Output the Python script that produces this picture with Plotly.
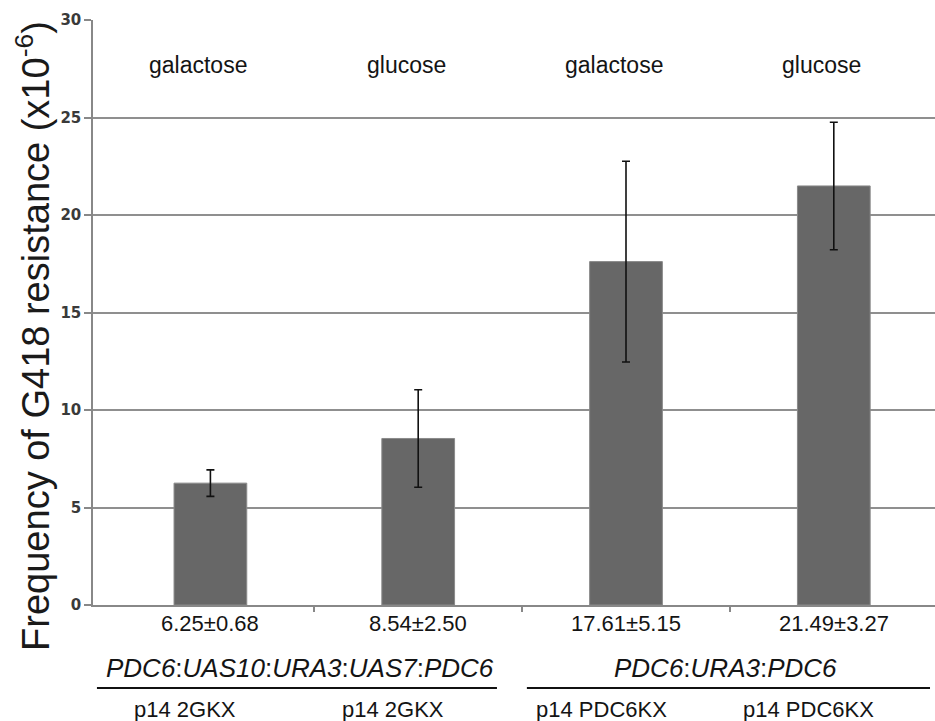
import plotly.graph_objects as go

# Conditions, frequencies (x10^-6) and standard deviations
conditions = ["galactose", "glucose", "galactose", "glucose"]
strains = ["p14 2GKX", "p14 2GKX", "p14 PDC6KX", "p14 PDC6KX"]
constructs = ["PDC6:UAS10:URA3:UAS7:PDC6", "PDC6:URA3:PDC6"]
freq = [6.25, 8.54, 17.61, 21.49]
sd = [0.68, 2.50, 5.15, 3.27]
y_ticks = [0, 5, 10, 15, 20, 25, 30]

xpos = list(range(len(freq)))

SANS = "Liberation Sans, Arial, sans-serif"
INK = "#141414"

fig = go.Figure()
fig.add_trace(go.Bar(
    x=xpos, y=freq, width=0.35,
    marker=dict(color="#676767", line=dict(color="#8a8a8a", width=1)),
    error_y=dict(type="data", array=sd, visible=True,
                 color="#111111", thickness=1.6, width=4),
    showlegend=False,
))

ann = []
# condition labels above the bars
for i, c in enumerate(conditions):
    ann.append(dict(x=i, y=1, xref="x", yref="paper", yanchor="middle",
                    yshift=-45, xshift=-12, text=c, showarrow=False,
                    font=dict(family=SANS, size=23, color=INK)))
# mean ± sd under each bar
for i, (m, s) in enumerate(zip(freq, sd)):
    ann.append(dict(x=i, y=0, xref="x", yref="paper", yanchor="middle",
                    yshift=-18, text=f"{m:.2f}\u00b1{s:.2f}", showarrow=False,
                    font=dict(family=SANS, size=22, color=INK)))
# strain labels
for i, s in enumerate(strains):
    ann.append(dict(x=i, y=0, xref="x", yref="paper", yanchor="middle",
                    yshift=-104, xshift=-25, text=s, showarrow=False,
                    font=dict(family=SANS, size=22, color=INK)))
# construct labels, one per pair of bars
for xc, t in zip([0.43, 2.48], constructs):
    italic = ":".join(f"<i>{p}</i>" for p in t.split(":"))
    ann.append(dict(x=xc, y=0, xref="x", yref="paper", yanchor="middle",
                    yshift=-63, text=italic, showarrow=False,
                    font=dict(family=SANS, size=26, color=INK)))
# y-axis title
ann.append(dict(x=0, y=0.46, xref="paper", yref="paper",
                xanchor="center", yanchor="middle", xshift=-60,
                text="Frequency of G418 resistance (x10<sup>-6</sup>)",
                textangle=-90, showarrow=False,
                font=dict(family=SANS, size=38, color="#1a1a1a")))

shapes = []
for x0, x1 in [(-0.546, 1.379), (1.523, 3.463)]:
    shapes.append(dict(type="line", xref="x", yref="paper",
                       x0=x0, x1=x1, y0=-0.1418, y1=-0.1418,
                       line=dict(color="#111111", width=2)))

fig.update_layout(
    width=935, height=721,
    margin=dict(l=93, r=0, t=19.5, b=116),
    paper_bgcolor="white", plot_bgcolor="white",
    annotations=ann, shapes=shapes,
    xaxis=dict(range=[-0.565, 3.487], tickvals=[0.5, 1.5, 2.5],
               showticklabels=False, ticks="outside", ticklen=5,
               tickcolor="#888888", tickwidth=1.5,
               showline=True, linecolor="#888888", linewidth=1.5,
               showgrid=False, zeroline=False, fixedrange=True),
    yaxis=dict(range=[0, 30], tickvals=y_ticks,
               ticks="outside", ticklen=7, tickcolor="#888888", tickwidth=1.5,
               showline=True, linecolor="#888888", linewidth=1.5,
               showgrid=True, gridcolor="#8f8f8f", gridwidth=1.5,
               zeroline=False,
               tickfont=dict(family="DejaVu Sans, sans-serif", size=15,
                             color="#3a3a3a", weight="bold"),
               fixedrange=True),
)

fig.write_html("out.html")
